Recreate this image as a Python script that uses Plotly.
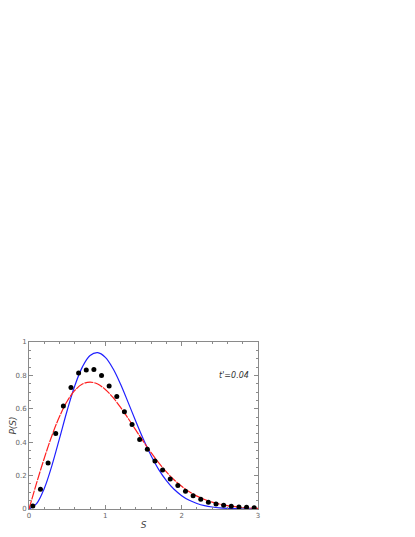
import plotly.graph_objects as go

s_grid = [0.0, 0.1, 0.2, 0.3, 0.4, 0.5, 0.6, 0.7, 0.8, 0.9, 1.0, 1.1, 1.2, 1.3, 1.4, 1.5,
          1.6, 1.7, 1.8, 1.9, 2.0, 2.1, 2.2, 2.3, 2.4, 2.5, 2.6, 2.7, 2.8, 2.9, 3.0]
blue_curve = [0.0, 0.032, 0.123, 0.260, 0.423, 0.590, 0.738, 0.851, 0.919, 0.936, 0.908,
              0.841, 0.747, 0.637, 0.524, 0.416, 0.319, 0.236, 0.170, 0.118, 0.080, 0.052,
              0.033, 0.020, 0.012, 0.007, 0.004, 0.002, 0.001, 0.0005, 0.0003]
red_curve = [0.0, 0.156, 0.304, 0.439, 0.554, 0.645, 0.710, 0.748, 0.760, 0.748, 0.716,
             0.668, 0.608, 0.542, 0.472, 0.403, 0.337, 0.276, 0.222, 0.175, 0.136, 0.103,
             0.077, 0.057, 0.041, 0.029, 0.020, 0.014, 0.009, 0.006, 0.004]

# Data points
s_pts = [0.05, 0.15, 0.25, 0.35, 0.45, 0.55, 0.65, 0.75, 0.85, 0.95, 1.05, 1.15, 1.25, 1.35,
         1.45, 1.55, 1.65, 1.75, 1.85, 1.95, 2.05, 2.15, 2.25, 2.35, 2.45, 2.55, 2.65, 2.75,
         2.85, 2.95]
p_pts = [0.018, 0.118, 0.276, 0.452, 0.617, 0.728, 0.814, 0.832, 0.836, 0.800, 0.736, 0.674,
         0.582, 0.506, 0.416, 0.358, 0.288, 0.234, 0.180, 0.140, 0.106, 0.080, 0.058, 0.040,
         0.030, 0.022, 0.016, 0.012, 0.010, 0.008]

fig = go.Figure()
fig.add_trace(go.Scatter(x=s_grid, y=blue_curve, mode="lines", line=dict(color="#1f1fff", width=1.2, shape="spline"), showlegend=False))
fig.add_trace(go.Scatter(x=s_grid, y=red_curve, mode="lines", line=dict(color="#ff1f1f", width=1.2, shape="spline", dash="9px,1px"), showlegend=False))
fig.add_trace(go.Scatter(x=s_pts, y=p_pts, mode="markers", marker=dict(color="black", size=5), showlegend=False))

axis_common = dict(showline=True, linecolor="#8a8a8a", linewidth=1, mirror="ticks", ticks="inside",
                   tickcolor="#8a8a8a", ticklen=4, showgrid=False, zeroline=False, automargin=False,
                   tickfont=dict(family="DejaVu Sans", size=7, color="#666666"))

fig.update_xaxes(range=[0, 3], tickvals=[0, 1, 2, 3], ticktext=["0", "1", "2", "3"],
                 minor=dict(dtick=0.2, ticks="inside", ticklen=2, tickcolor="#8a8a8a"),
                 title=dict(text="<i>S</i>", font=dict(family="DejaVu Sans", size=9, color="#444444"), standoff=2),
                 **axis_common)
fig.update_yaxes(range=[0, 1], tickvals=[0, 0.2, 0.4, 0.6, 0.8, 1], ticktext=["0", "0.2", "0.4", "0.6", "0.8", "1"],
                 minor=dict(dtick=0.05, ticks="inside", ticklen=2, tickcolor="#8a8a8a"),
                 title=dict(text="<i>P(S)</i>", font=dict(family="DejaVu Sans", size=9, color="#444444"), standoff=4),
                 **axis_common)

fig.add_annotation(x=0.97, y=0.80, xref="paper", yref="paper", text="<i>t'=0.04</i>", showarrow=False,
                   xanchor="right", yanchor="middle", font=dict(family="DejaVu Sans", size=8, color="#333333"))

fig.update_layout(width=407, height=529, margin=dict(l=21, r=157, t=334, b=28),
                  paper_bgcolor="white", plot_bgcolor="white")

fig.write_html("out.html")
